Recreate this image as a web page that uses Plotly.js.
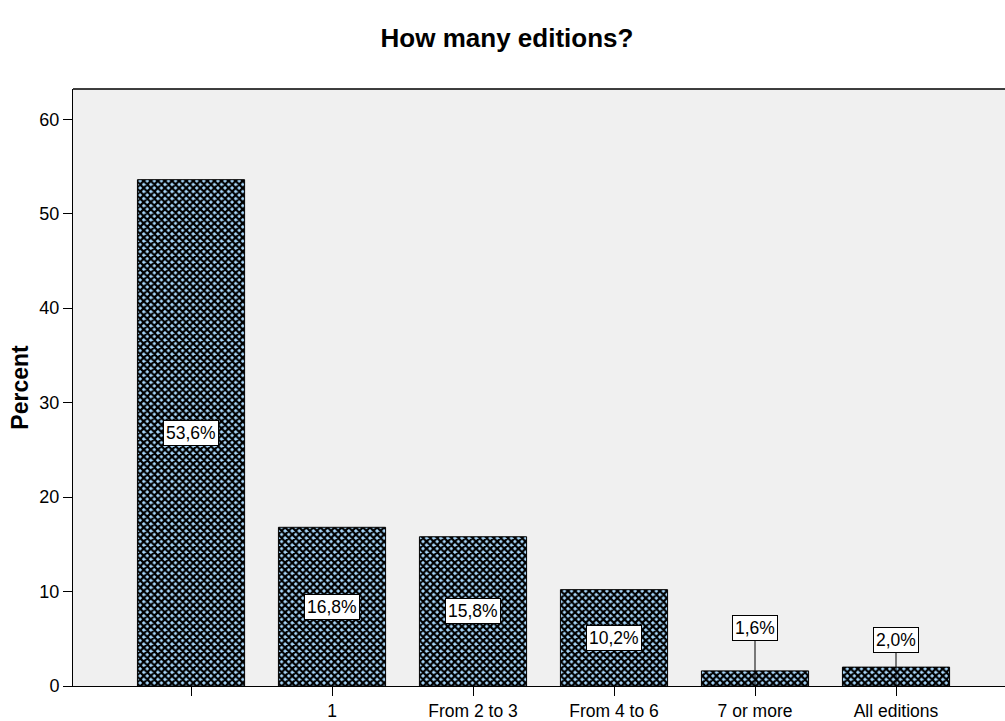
<!DOCTYPE html>
<html>
<head>
<meta charset="utf-8">
<script src="https://cdn.plot.ly/plotly-3.0.1.min.js"></script>
<style>html,body{margin:0;padding:0;background:#fff;}#chart{width:1005px;height:721px;}</style>
</head>
<body>
<div id="chart"></div>
<script>
// ---- data ----
const categories = ["", "1", "From 2 to 3", "From 4 to 6", "7 or more", "All editions"];
const percents = [53.6, 16.8, 15.8, 10.2, 1.6, 2.0];
const valueLabels = ["53,6%", "16,8%", "15,8%", "10,2%", "1,6%", "2,0%"];
const yTicks = [0, 10, 20, 30, 40, 50, 60];

// ---- layout helpers ----
const xIdx = categories.map((c, i) => i);
const FONT = "Liberation Sans, Arial, sans-serif";
const outsideLabelY = {4: 6.1, 5: 4.9}; // leader-line label placement for short bars

const annotations = percents.map((v, i) => {
  const base = {
    x: i, xref: "x", yref: "y",
    text: valueLabels[i],
    font: {family: FONT, size: 17.5, color: "#000"},
    bgcolor: "#ffffff", bordercolor: "#000000", borderwidth: 1, borderpad: 2
  };
  if (outsideLabelY[i] !== undefined) {
    return Object.assign(base, {
      y: 0, showarrow: true, arrowhead: 0, arrowwidth: 1, arrowcolor: "#000",
      axref: "x", ayref: "y", ax: i, ay: outsideLabelY[i], standoff: 0
    });
  }
  return Object.assign(base, {y: v / 2, showarrow: false});
});

const trace = {
  type: "bar",
  x: xIdx,
  y: percents,
  width: 0.76,
  marker: {
    color: "#a8d8fc",
    line: {color: "#000", width: 1},
    pattern: {shape: "x", fgcolor: "#000000", bgcolor: "#a8d8fc", size: 5, solidity: 0.7, fillmode: "replace"}
  },
  hoverinfo: "skip"
};

const layout = {
  width: 1005, height: 721,
  margin: {l: 73, r: 0, t: 89, b: 35},
  paper_bgcolor: "#ffffff",
  plot_bgcolor: "#f0f0f0",
  showlegend: false,
  title: {
    text: "<b>How many editions?</b>",
    font: {family: FONT, size: 26, color: "#000"},
    x: 507 / 1005, xanchor: "center", xref: "container",
    y: 1 - 38 / 721, yref: "container", yanchor: "middle"
  },
  xaxis: {
    range: [-0.837, 5.773],
    tickmode: "array", tickvals: xIdx, ticktext: categories,
    ticks: "outside", ticklen: 9, tickcolor: "#000", tickwidth: 1,
    showline: true, linecolor: "#000", linewidth: 1,
    showgrid: false, zeroline: false,
    tickfont: {family: FONT, size: 17.5, color: "#000"}
  },
  yaxis: {
    range: [0, 63.2],
    tickmode: "array", tickvals: yTicks,
    ticks: "outside", ticklen: 9, tickcolor: "#000", tickwidth: 1,
    showline: true, linecolor: "#000", linewidth: 1,
    showgrid: false, zeroline: false,
    tickfont: {family: FONT, size: 18, color: "#000"},
    title: {text: "<b>Percent</b>", font: {family: FONT, size: 23, color: "#000"}, standoff: 4}
  },
  shapes: [
    {type: "line", xref: "paper", yref: "paper", x0: 0, x1: 1, y0: 1, y1: 1, line: {color: "#000", width: 1.5}}
  ],
  annotations: annotations
};

Plotly.newPlot("chart", [trace], layout, {displayModeBar: false, staticPlot: true});
</script>
</body>
</html>
